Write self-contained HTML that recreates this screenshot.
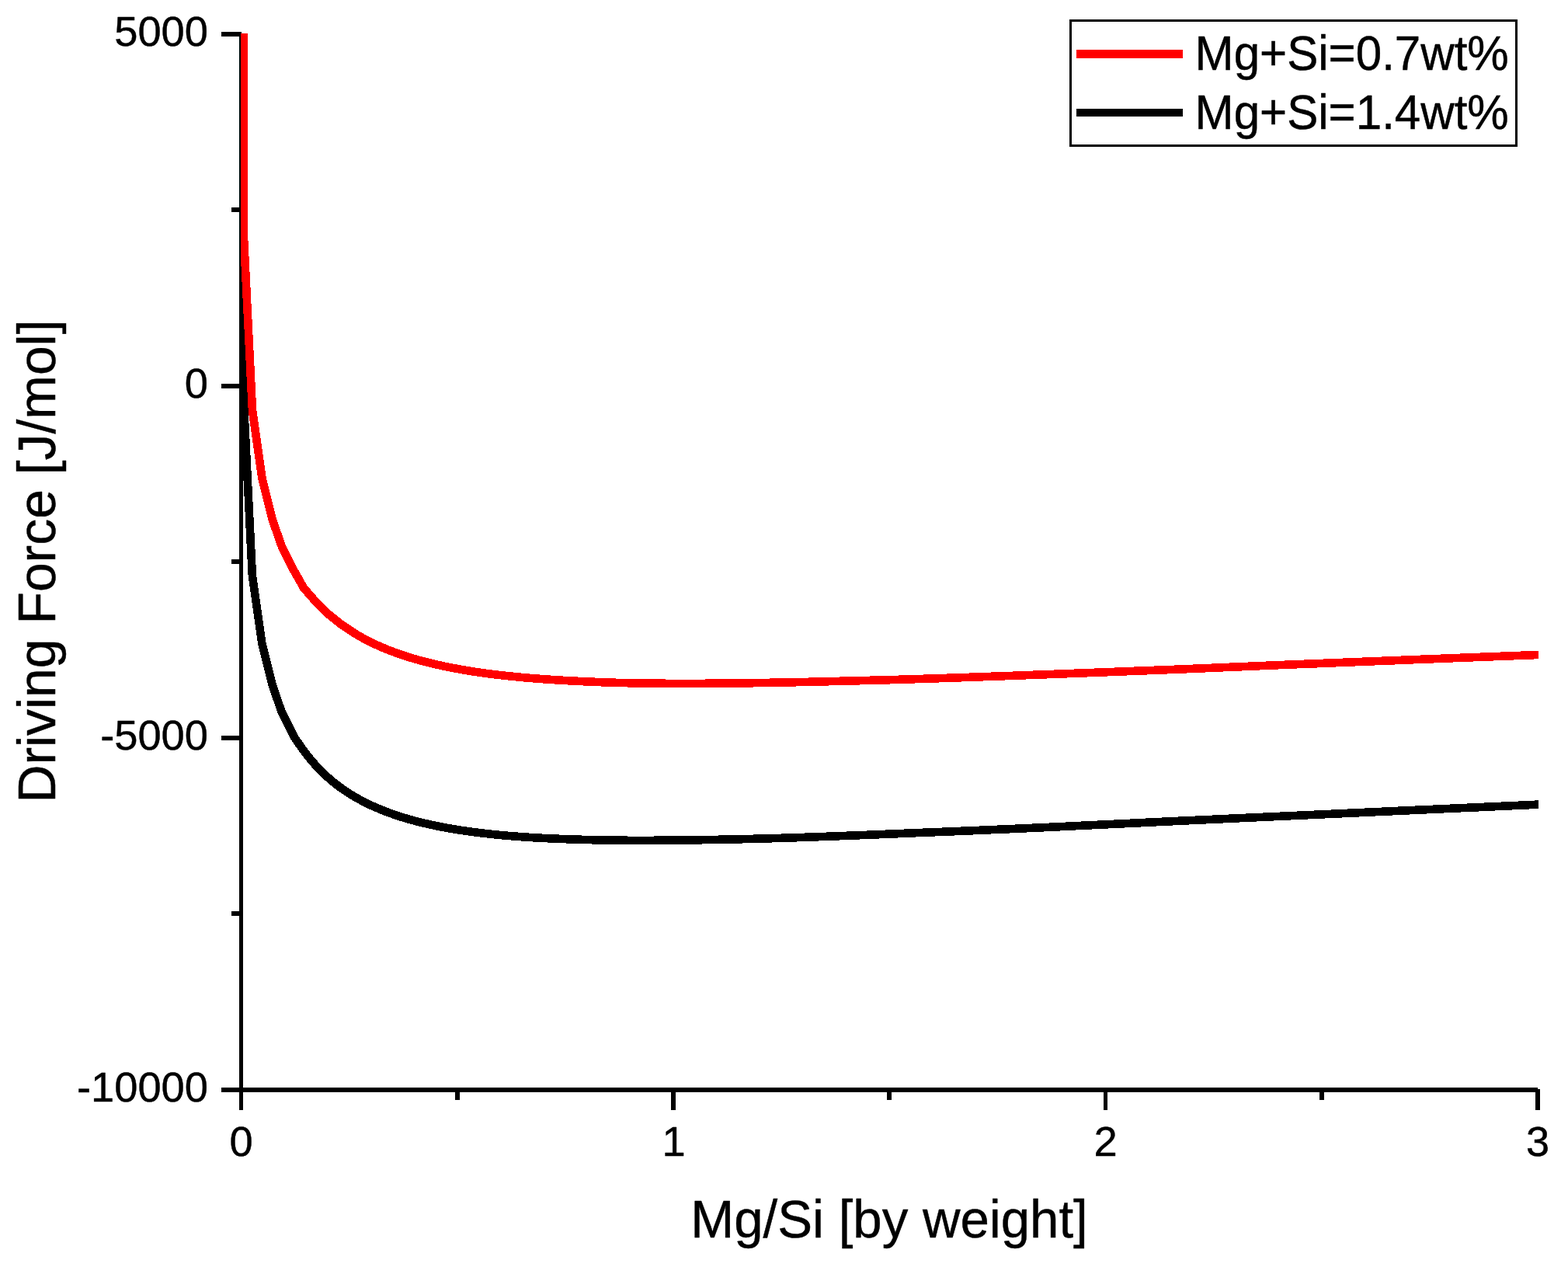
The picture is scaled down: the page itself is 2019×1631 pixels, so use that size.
<!DOCTYPE html>
<html lang="en">
<head>
<meta charset="utf-8">
<title>Driving Force vs Mg/Si</title>
<style>
html,body{margin:0;padding:0;background:#fff;}
body{width:2019px;height:1631px;overflow:hidden;}
svg{display:block;}
text{font-family:"Liberation Sans",sans-serif;fill:#000;stroke:#000;stroke-width:0.45px;stroke-linejoin:round;}
.tk{font-size:54.3px;}
.tt{font-size:67.2px;}
.lg{font-size:60.1px;}
</style>
</head>
<body>
<svg width="2019" height="1631" viewBox="0 0 2019 1631">
<rect x="0" y="0" width="2019" height="1631" fill="#fff"/>
<defs><clipPath id="plot"><rect x="310" y="43" width="1671" height="1360"/></clipPath></defs>
<g shape-rendering="crispEdges">
<rect x="308" y="41" width="3" height="1388" fill="#000"/>
<rect x="311" y="43" width="2" height="1386" fill="#000"/>
<rect x="285" y="1400" width="1695" height="6" fill="#000"/>
<rect x="285" y="41" width="26" height="6" fill="#000"/>
<rect x="285" y="494" width="26" height="6" fill="#000"/>
<rect x="285" y="947" width="26" height="6" fill="#000"/>
<rect x="298" y="267" width="13" height="6" fill="#000"/>
<rect x="298" y="720" width="13" height="6" fill="#000"/>
<rect x="298" y="1173" width="13" height="6" fill="#000"/>
<rect x="864" y="1403" width="6" height="26" fill="#000"/>
<rect x="1421" y="1403" width="5" height="26" fill="#000"/>
<rect x="1977" y="1402" width="6" height="27" fill="#000"/>
<rect x="586" y="1403" width="6" height="13" fill="#000"/>
<rect x="1142" y="1403" width="6" height="13" fill="#000"/>
<rect x="1699" y="1403" width="6" height="13" fill="#000"/>
</g>
<g clip-path="url(#plot)" shape-rendering="crispEdges" fill="none" stroke-width="10.65" stroke-linejoin="round" stroke-linecap="butt">
<path d="M313.40 20.00 L313.40 509.00 L324.89 741.10 L337.39 828.60 L350.73 882.00 L362.67 916.50 L379.20 949.50 L390.58 965.65 L392.09 967.71 L393.60 969.71 L395.11 971.66 L396.62 973.57 L398.12 975.44 L399.63 977.26 L401.12 979.04 L402.62 980.79 L404.11 982.49 L405.60 984.16 L407.08 985.79 L408.55 987.38 L410.03 988.95 L411.49 990.48 L412.96 991.97 L414.43 993.44 L415.89 994.88 L417.36 996.29 L418.83 997.67 L420.29 999.02 L421.76 1000.35 L423.22 1001.65 L424.69 1002.93 L426.16 1004.18 L427.62 1005.41 L429.09 1006.61 L430.56 1007.80 L432.02 1008.96 L433.49 1010.10 L434.96 1011.22 L436.42 1012.32 L437.89 1013.40 L439.35 1014.46 L440.82 1015.50 L442.29 1016.52 L443.75 1017.53 L445.22 1018.51 L446.69 1019.49 L448.15 1020.44 L449.62 1021.38 L451.08 1022.30 L452.55 1023.21 L454.02 1024.10 L455.48 1024.98 L456.95 1025.84 L458.42 1026.69 L459.88 1027.52 L461.35 1028.34 L462.81 1029.15 L464.28 1029.94 L465.75 1030.73 L467.21 1031.50 L468.68 1032.25 L470.15 1033.00 L471.61 1033.73 L473.08 1034.45 L474.54 1035.17 L476.01 1035.87 L477.48 1036.56 L478.94 1037.23 L480.41 1037.90 L481.88 1038.56 L483.34 1039.21 L484.81 1039.85 L486.28 1040.48 L487.74 1041.09 L489.21 1041.70 L490.67 1042.31 L492.14 1042.90 L493.61 1043.48 L495.07 1044.06 L496.54 1044.62 L498.01 1045.18 L499.47 1045.73 L500.94 1046.27 L502.40 1046.81 L503.87 1047.33 L505.34 1047.85 L506.80 1048.36 L508.27 1048.87 L509.74 1049.36 L511.20 1049.85 L512.67 1050.34 L514.13 1050.81 L515.60 1051.28 L517.07 1051.74 L518.53 1052.20 L520.00 1052.65 L524.89 1054.10 L529.77 1055.49 L534.66 1056.81 L539.55 1058.08 L544.43 1059.28 L549.32 1060.44 L554.20 1061.54 L559.09 1062.59 L563.98 1063.60 L568.86 1064.56 L573.75 1065.48 L578.64 1066.36 L583.52 1067.20 L588.41 1068.00 L593.29 1068.76 L598.18 1069.50 L603.07 1070.20 L607.95 1070.86 L612.84 1071.50 L617.73 1072.11 L622.61 1072.69 L627.50 1073.25 L632.38 1073.78 L637.27 1074.28 L642.16 1074.76 L647.04 1075.22 L651.93 1075.66 L656.82 1076.07 L661.70 1076.47 L666.59 1076.84 L671.47 1077.20 L676.36 1077.54 L681.25 1077.86 L686.13 1078.16 L691.02 1078.45 L695.91 1078.72 L700.79 1078.98 L705.68 1079.22 L710.57 1079.44 L715.45 1079.66 L720.34 1079.86 L725.22 1080.05 L730.11 1080.22 L735.00 1080.38 L739.88 1080.53 L744.77 1080.69 L749.66 1080.84 L754.54 1080.99 L759.43 1081.13 L764.31 1081.24 L769.20 1081.34 L774.09 1081.44 L778.97 1081.52 L783.86 1081.59 L788.75 1081.66 L793.63 1081.71 L798.52 1081.76 L803.40 1081.80 L808.29 1081.83 L813.18 1081.85 L818.06 1081.86 L822.95 1081.87 L827.84 1081.87 L832.72 1081.87 L837.61 1081.85 L842.49 1081.84 L847.38 1081.81 L852.27 1081.78 L857.15 1081.75 L862.04 1081.71 L866.93 1081.66 L871.81 1081.61 L876.70 1081.56 L881.59 1081.50 L886.47 1081.43 L891.36 1081.37 L896.24 1081.30 L901.13 1081.23 L906.02 1081.15 L910.90 1081.08 L915.79 1080.99 L920.68 1080.91 L925.56 1080.82 L930.45 1080.72 L935.33 1080.62 L940.22 1080.52 L945.11 1080.42 L949.99 1080.31 L954.88 1080.20 L959.77 1080.08 L964.65 1079.96 L969.54 1079.84 L974.42 1079.71 L979.31 1079.59 L984.20 1079.46 L989.08 1079.33 L993.97 1079.19 L998.86 1079.05 L1003.74 1078.90 L1008.63 1078.74 L1013.52 1078.58 L1018.40 1078.42 L1023.29 1078.26 L1028.17 1078.09 L1033.06 1077.93 L1037.95 1077.76 L1042.83 1077.59 L1047.72 1077.41 L1052.61 1077.24 L1057.49 1077.06 L1062.38 1076.88 L1067.26 1076.70 L1072.15 1076.52 L1077.04 1076.34 L1081.92 1076.15 L1086.81 1075.97 L1091.70 1075.78 L1096.58 1075.59 L1101.47 1075.40 L1106.35 1075.21 L1111.24 1075.01 L1116.13 1074.82 L1121.01 1074.62 L1125.90 1074.43 L1130.79 1074.23 L1135.67 1074.03 L1140.56 1073.83 L1145.44 1073.63 L1150.33 1073.42 L1155.22 1073.21 L1160.10 1073.00 L1164.99 1072.79 L1169.88 1072.58 L1174.76 1072.37 L1179.65 1072.17 L1184.54 1071.97 L1189.42 1071.77 L1194.31 1071.57 L1199.19 1071.37 L1204.08 1071.18 L1208.97 1070.98 L1213.85 1070.79 L1218.74 1070.59 L1223.63 1070.40 L1228.51 1070.20 L1233.40 1070.00 L1238.28 1069.80 L1243.17 1069.60 L1248.06 1069.39 L1252.94 1069.18 L1257.83 1068.97 L1262.72 1068.77 L1267.60 1068.56 L1272.49 1068.35 L1277.37 1068.14 L1282.26 1067.93 L1287.15 1067.72 L1292.03 1067.51 L1296.92 1067.29 L1301.81 1067.08 L1306.69 1066.86 L1311.58 1066.65 L1316.46 1066.43 L1321.35 1066.21 L1326.24 1065.99 L1331.12 1065.76 L1336.01 1065.54 L1340.90 1065.31 L1345.78 1065.08 L1350.67 1064.85 L1355.56 1064.62 L1360.44 1064.38 L1365.33 1064.15 L1370.21 1063.92 L1375.10 1063.68 L1379.99 1063.44 L1384.87 1063.21 L1389.76 1062.97 L1394.65 1062.74 L1399.53 1062.50 L1404.42 1062.27 L1409.30 1062.04 L1414.19 1061.80 L1419.08 1061.57 L1423.96 1061.33 L1428.85 1061.10 L1433.74 1060.86 L1438.62 1060.62 L1443.51 1060.39 L1448.39 1060.15 L1453.28 1059.92 L1458.17 1059.68 L1463.05 1059.45 L1467.94 1059.21 L1472.83 1058.97 L1477.71 1058.73 L1482.60 1058.50 L1487.48 1058.26 L1492.37 1058.02 L1497.26 1057.78 L1502.14 1057.55 L1507.03 1057.32 L1511.92 1057.08 L1516.80 1056.85 L1521.69 1056.63 L1526.58 1056.40 L1531.46 1056.17 L1536.35 1055.95 L1541.23 1055.72 L1546.12 1055.50 L1551.01 1055.27 L1555.89 1055.04 L1560.78 1054.82 L1565.67 1054.59 L1570.55 1054.37 L1575.44 1054.14 L1580.32 1053.92 L1585.21 1053.69 L1590.10 1053.47 L1594.98 1053.24 L1599.87 1053.02 L1604.76 1052.80 L1609.64 1052.57 L1614.53 1052.35 L1619.41 1052.13 L1624.30 1051.90 L1629.19 1051.68 L1634.07 1051.46 L1638.96 1051.23 L1643.85 1051.01 L1648.73 1050.79 L1653.62 1050.57 L1658.51 1050.34 L1663.39 1050.12 L1668.28 1049.90 L1673.16 1049.68 L1678.05 1049.46 L1682.94 1049.23 L1687.82 1049.01 L1692.71 1048.79 L1697.60 1048.57 L1702.48 1048.35 L1707.37 1048.13 L1712.25 1047.90 L1717.14 1047.68 L1722.03 1047.46 L1726.91 1047.23 L1731.80 1047.01 L1736.69 1046.78 L1741.57 1046.56 L1746.46 1046.33 L1751.34 1046.10 L1756.23 1045.88 L1761.12 1045.65 L1766.00 1045.43 L1770.89 1045.20 L1775.78 1044.98 L1780.66 1044.75 L1785.55 1044.53 L1790.43 1044.30 L1795.32 1044.08 L1800.21 1043.85 L1805.09 1043.63 L1809.98 1043.41 L1814.87 1043.19 L1819.75 1042.97 L1824.64 1042.74 L1829.53 1042.52 L1834.41 1042.30 L1839.30 1042.08 L1844.18 1041.86 L1849.07 1041.64 L1853.96 1041.42 L1858.84 1041.20 L1863.73 1040.98 L1868.62 1040.76 L1873.50 1040.54 L1878.39 1040.32 L1883.27 1040.10 L1888.16 1039.88 L1893.05 1039.66 L1897.93 1039.44 L1902.82 1039.22 L1907.71 1038.99 L1912.59 1038.77 L1917.48 1038.55 L1922.36 1038.32 L1927.25 1038.10 L1932.14 1037.87 L1937.02 1037.65 L1941.91 1037.42 L1946.80 1037.20 L1951.68 1036.97 L1956.57 1036.75 L1961.45 1036.52 L1966.34 1036.30 L1971.23 1036.07 L1976.11 1035.85 L1981.00 1035.62" stroke="#000"/>
<path d="M313.40 20.00 L313.40 294.00 L325.03 528.70 L337.46 615.70 L350.60 668.60 L363.04 704.10 L376.90 731.80 L391.20 757.00 L406.50 774.50 L422.50 790.30 L439.00 803.50 L456.72 815.32 L457.44 815.76 L458.16 816.20 L458.88 816.63 L459.60 817.05 L460.31 817.48 L461.03 817.90 L461.75 818.32 L462.47 818.73 L463.19 819.15 L463.91 819.55 L464.63 819.96 L465.35 820.36 L466.07 820.76 L466.79 821.16 L467.51 821.55 L468.22 821.94 L468.94 822.33 L469.66 822.71 L470.38 823.10 L471.10 823.48 L471.82 823.85 L472.54 824.23 L473.26 824.60 L473.98 824.96 L474.70 825.33 L475.42 825.69 L476.13 826.05 L476.85 826.41 L477.57 826.77 L478.29 827.12 L479.01 827.47 L479.73 827.82 L480.45 828.16 L481.17 828.50 L481.89 828.84 L482.61 829.18 L483.33 829.52 L484.04 829.85 L484.76 830.18 L485.48 830.51 L486.20 830.84 L486.92 831.16 L487.64 831.48 L488.36 831.80 L489.08 832.12 L489.80 832.43 L490.52 832.74 L491.24 833.05 L491.96 833.36 L492.67 833.67 L493.39 833.97 L494.11 834.28 L494.83 834.58 L495.55 834.87 L496.27 835.17 L496.99 835.46 L497.71 835.76 L498.43 836.05 L499.15 836.33 L499.87 836.62 L500.58 836.90 L501.30 837.19 L502.02 837.47 L502.74 837.74 L503.46 838.02 L504.18 838.30 L504.90 838.57 L505.62 838.84 L506.34 839.11 L507.06 839.38 L507.78 839.64 L508.49 839.91 L509.21 840.17 L509.93 840.43 L510.65 840.69 L511.37 840.94 L512.09 841.20 L512.81 841.45 L513.53 841.71 L514.25 841.96 L514.97 842.20 L515.69 842.45 L516.40 842.70 L517.12 842.94 L517.84 843.18 L518.56 843.42 L519.28 843.66 L520.00 843.90 L524.89 845.48 L529.77 846.98 L534.66 848.43 L539.55 849.81 L544.43 851.14 L549.32 852.41 L554.20 853.63 L559.09 854.80 L563.98 855.92 L568.86 857.00 L573.75 858.03 L578.64 859.03 L583.52 859.98 L588.41 860.89 L593.29 861.77 L598.18 862.62 L603.07 863.43 L607.95 864.20 L612.84 864.95 L617.73 865.67 L622.61 866.36 L627.50 867.02 L632.38 867.66 L637.27 868.27 L642.16 868.85 L647.04 869.41 L651.93 869.95 L656.82 870.47 L661.70 870.97 L666.59 871.45 L671.47 871.90 L676.36 872.34 L681.25 872.76 L686.13 873.17 L691.02 873.55 L695.91 873.92 L700.79 874.27 L705.68 874.61 L710.57 874.94 L715.45 875.26 L720.34 875.56 L725.22 875.85 L730.11 876.13 L735.00 876.39 L739.88 876.65 L744.77 876.89 L749.66 877.13 L754.54 877.35 L759.43 877.57 L764.31 877.77 L769.20 877.97 L774.09 878.18 L778.97 878.38 L783.86 878.56 L788.75 878.72 L793.63 878.85 L798.52 878.98 L803.40 879.09 L808.29 879.19 L813.18 879.29 L818.06 879.38 L822.95 879.46 L827.84 879.53 L832.72 879.60 L837.61 879.66 L842.49 879.71 L847.38 879.76 L852.27 879.79 L857.15 879.83 L862.04 879.85 L866.93 879.88 L871.81 879.89 L876.70 879.90 L881.59 879.91 L886.47 879.91 L891.36 879.90 L896.24 879.89 L901.13 879.87 L906.02 879.85 L910.90 879.82 L915.79 879.79 L920.68 879.75 L925.56 879.71 L930.45 879.67 L935.33 879.62 L940.22 879.56 L945.11 879.51 L949.99 879.45 L954.88 879.38 L959.77 879.32 L964.65 879.25 L969.54 879.18 L974.42 879.10 L979.31 879.03 L984.20 878.95 L989.08 878.86 L993.97 878.78 L998.86 878.69 L1003.74 878.60 L1008.63 878.51 L1013.52 878.41 L1018.40 878.31 L1023.29 878.21 L1028.17 878.11 L1033.06 878.00 L1037.95 877.89 L1042.83 877.78 L1047.72 877.67 L1052.61 877.55 L1057.49 877.44 L1062.38 877.32 L1067.26 877.19 L1072.15 877.07 L1077.04 876.95 L1081.92 876.82 L1086.81 876.69 L1091.70 876.57 L1096.58 876.45 L1101.47 876.32 L1106.35 876.20 L1111.24 876.08 L1116.13 875.95 L1121.01 875.82 L1125.90 875.70 L1130.79 875.57 L1135.67 875.44 L1140.56 875.31 L1145.44 875.18 L1150.33 875.04 L1155.22 874.90 L1160.10 874.75 L1164.99 874.60 L1169.88 874.44 L1174.76 874.29 L1179.65 874.13 L1184.54 873.97 L1189.42 873.81 L1194.31 873.65 L1199.19 873.49 L1204.08 873.33 L1208.97 873.17 L1213.85 873.00 L1218.74 872.84 L1223.63 872.67 L1228.51 872.50 L1233.40 872.34 L1238.28 872.17 L1243.17 872.00 L1248.06 871.83 L1252.94 871.65 L1257.83 871.48 L1262.72 871.31 L1267.60 871.13 L1272.49 870.96 L1277.37 870.78 L1282.26 870.61 L1287.15 870.43 L1292.03 870.25 L1296.92 870.07 L1301.81 869.90 L1306.69 869.72 L1311.58 869.54 L1316.46 869.35 L1321.35 869.17 L1326.24 868.99 L1331.12 868.81 L1336.01 868.63 L1340.90 868.44 L1345.78 868.26 L1350.67 868.07 L1355.56 867.89 L1360.44 867.70 L1365.33 867.52 L1370.21 867.33 L1375.10 867.14 L1379.99 866.96 L1384.87 866.77 L1389.76 866.58 L1394.65 866.39 L1399.53 866.20 L1404.42 866.01 L1409.30 865.82 L1414.19 865.63 L1419.08 865.44 L1423.96 865.25 L1428.85 865.06 L1433.74 864.87 L1438.62 864.68 L1443.51 864.48 L1448.39 864.29 L1453.28 864.10 L1458.17 863.91 L1463.05 863.71 L1467.94 863.52 L1472.83 863.34 L1477.71 863.15 L1482.60 862.96 L1487.48 862.78 L1492.37 862.59 L1497.26 862.41 L1502.14 862.22 L1507.03 862.03 L1511.92 861.83 L1516.80 861.63 L1521.69 861.43 L1526.58 861.23 L1531.46 861.03 L1536.35 860.82 L1541.23 860.61 L1546.12 860.41 L1551.01 860.20 L1555.89 859.99 L1560.78 859.79 L1565.67 859.58 L1570.55 859.38 L1575.44 859.17 L1580.32 858.96 L1585.21 858.75 L1590.10 858.55 L1594.98 858.34 L1599.87 858.13 L1604.76 857.92 L1609.64 857.72 L1614.53 857.50 L1619.41 857.29 L1624.30 857.08 L1629.19 856.87 L1634.07 856.67 L1638.96 856.46 L1643.85 856.26 L1648.73 856.06 L1653.62 855.86 L1658.51 855.66 L1663.39 855.46 L1668.28 855.27 L1673.16 855.07 L1678.05 854.88 L1682.94 854.68 L1687.82 854.49 L1692.71 854.29 L1697.60 854.09 L1702.48 853.90 L1707.37 853.70 L1712.25 853.51 L1717.14 853.31 L1722.03 853.11 L1726.91 852.92 L1731.80 852.72 L1736.69 852.53 L1741.57 852.33 L1746.46 852.13 L1751.34 851.94 L1756.23 851.74 L1761.12 851.55 L1766.00 851.35 L1770.89 851.15 L1775.78 850.96 L1780.66 850.76 L1785.55 850.57 L1790.43 850.37 L1795.32 850.18 L1800.21 849.98 L1805.09 849.79 L1809.98 849.60 L1814.87 849.40 L1819.75 849.21 L1824.64 849.01 L1829.53 848.82 L1834.41 848.63 L1839.30 848.44 L1844.18 848.24 L1849.07 848.05 L1853.96 847.86 L1858.84 847.67 L1863.73 847.47 L1868.62 847.28 L1873.50 847.09 L1878.39 846.90 L1883.27 846.71 L1888.16 846.52 L1893.05 846.33 L1897.93 846.14 L1902.82 845.95 L1907.71 845.76 L1912.59 845.57 L1917.48 845.38 L1922.36 845.19 L1927.25 845.01 L1932.14 844.82 L1937.02 844.63 L1941.91 844.44 L1946.80 844.26 L1951.68 844.07 L1956.57 843.88 L1961.45 843.69 L1966.34 843.50 L1971.23 843.31 L1976.11 843.12 L1981.00 842.93" stroke="#f00"/>
</g>
<g class="tk" text-anchor="end">
<text transform="translate(268 59.1) scale(1 1)">5000</text>
<text transform="translate(268 512.1) scale(1 1)">0</text>
<text transform="translate(268 964.6) scale(1 1)">-5000</text>
<text transform="translate(268 1417.6) scale(1 1)">-10000</text>
</g>
<g class="tk" text-anchor="middle">
<text transform="translate(310.5 1488.4) scale(1 1)">0</text>
<text transform="translate(867.5 1488.4) scale(1 1)">1</text>
<text transform="translate(1423.5 1488.4) scale(1 1)">2</text>
<text transform="translate(1980 1488.4) scale(1 1)">3</text>
</g>
<text class="tt" text-anchor="middle" transform="translate(1145 1593) scale(1 1.02)">Mg/Si [by weight]</text>
<text class="tt" text-anchor="middle" transform="translate(71 722.5) rotate(-90) scale(1.01 1.02)">Driving Force [J/mol]</text>
<g shape-rendering="crispEdges">
<rect x="1378.5" y="26.5" width="574" height="161" fill="#fff" stroke="#000" stroke-width="3"/>
<rect x="1386" y="64" width="137" height="11" fill="#f00"/>
<rect x="1386" y="140" width="137" height="10" fill="#000"/>
</g>
<text class="lg" transform="translate(1538.6 90) scale(1 1.035)">Mg+Si=0.7wt%</text>
<text class="lg" transform="translate(1538.6 166) scale(1 1.035)">Mg+Si=1.4wt%</text>
</svg>
</body>
</html>
